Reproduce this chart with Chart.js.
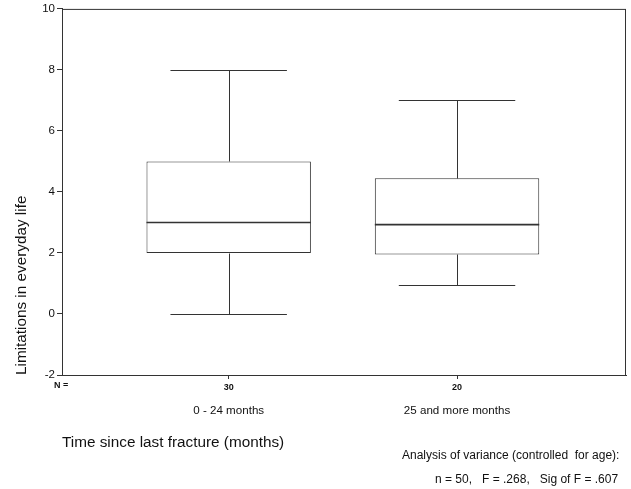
<!DOCTYPE html>
<html>
<head>
<meta charset="utf-8">
<script src="https://cdn.jsdelivr.net/npm/chart.js@4"></script>
<style>
  html, body { margin: 0; padding: 0; background: #fff; }
  #wrap { position: relative; width: 631px; height: 489px; }
  #wrap canvas { position: absolute; left: 0; top: 0; }
  .note { position: absolute; font-family: "Liberation Sans", Arial, sans-serif; color: #111; white-space: pre; line-height: 1; }
</style>
</head>
<body>
<div id="wrap">
  <canvas id="boxChart" width="631" height="489"></canvas>
  <div class="note" style="left:54px;top:381px;font-size:9px;font-weight:bold;">N =</div>
  <div class="note" style="left:62px;top:434px;font-size:15.3px;">Time since last fracture (months)</div>
  <div class="note" style="left:402px;top:449px;font-size:12px;">Analysis of variance (controlled  for age):</div>
  <div class="note" style="left:435px;top:473px;font-size:12px;">n = 50,   F = .268,   Sig of F = .607</div>
</div>
<script>
// datos
const groups = ['0 - 24 months', '25 and more months'];
const groupPos = [1, 2];
const nCounts = ['30', '20'];
const whiskerLow = [0, 0.95];
const q1 = [2, 1.95];
const median = [3, 2.93];
const q3 = [5, 4.45];
const whiskerHigh = [8, 7];
const yTicks = [-2, 0, 2, 4, 6, 8, 10];

const FONT = '"Liberation Sans", Arial, sans-serif';
const LINE = '#333';
const capHalf = 0.255;

// marco alrededor del area del grafico
const framePlugin = {
  id: 'frame',
  afterDatasetsDraw(chart) {
    const { ctx, chartArea: a } = chart;
    ctx.save();
    ctx.strokeStyle = LINE;
    ctx.lineWidth = 1;
    ctx.strokeRect(a.left + 0.5, a.top + 0.5, a.right - a.left - 1, a.bottom - a.top);
    ctx.restore();
  }
};

// bigotes y mediana, usando las escalas
const whiskerPlugin = {
  id: 'whiskers',
  afterDatasetsDraw(chart) {
    const { ctx, scales } = chart;
    const xs = scales.x, ys = scales.y;
    const meta = chart.getDatasetMeta(0);
    const line = (x1, y1, x2, y2) => {
      ctx.beginPath();
      ctx.moveTo(x1, y1);
      ctx.lineTo(x2, y2);
      ctx.stroke();
    };
    const py = v => Math.round(ys.getPixelForValue(v)) + 0.5;
    ctx.save();
    ctx.strokeStyle = LINE;
    groupPos.forEach((pos, i) => {
      const cx = Math.round(xs.getPixelForValue(pos)) + 0.5;
      const capL = xs.getPixelForValue(pos - capHalf);
      const capR = xs.getPixelForValue(pos + capHalf);
      ctx.lineWidth = 1;
      line(cx, py(q3[i]), cx, py(whiskerHigh[i]));
      line(capL, py(whiskerHigh[i]), capR, py(whiskerHigh[i]));
      line(cx, py(q1[i]), cx, py(whiskerLow[i]));
      line(capL, py(whiskerLow[i]), capR, py(whiskerLow[i]));
      const bar = meta.data[i];
      ctx.lineWidth = 1.6;
      line(bar.x - bar.width / 2, ys.getPixelForValue(median[i]), bar.x + bar.width / 2, ys.getPixelForValue(median[i]));
    });
    ctx.restore();
  }
};

const groupTicks = s => { s.ticks = groupPos.map(v => ({ value: v })); };

const data = {
  datasets: [{
    label: 'Limitations',
    data: groupPos.map((x, i) => ({ x: x, y: [q1[i], q3[i]] })),
    backgroundColor: '#fff',
    borderColor: LINE,
    borderWidth: 1,
    borderSkipped: false,
    barPercentage: 0.72,
    categoryPercentage: 1
  }]
};

const options = {
  responsive: false,
  animation: false,
  devicePixelRatio: 1,
  layout: { padding: { top: 8, right: 5, bottom: 72, left: 0 } },
  plugins: { legend: { display: false }, tooltip: { enabled: false } },
  scales: {
    x: {
      type: 'linear',
      position: 'bottom',
      weight: 0,
      offset: false,
      min: 0.27,
      max: 2.74,
      afterBuildTicks: groupTicks,
      afterFit: s => { s.height = 20; },
      ticks: {
        callback: (v, i) => nCounts[i],
        font: { family: FONT, size: 9, weight: 'bold' },
        color: '#111',
        padding: 3,
        maxRotation: 0,
        autoSkip: false
      },
      grid: { drawOnChartArea: false, offset: false, tickLength: 4, color: LINE },
      border: { display: true, color: LINE }
    },
    x2: {
      type: 'linear',
      position: 'bottom',
      weight: 1,
      offset: false,
      min: 0.27,
      max: 2.74,
      afterBuildTicks: groupTicks,
      afterFit: s => { s.height = 22; },
      ticks: {
        callback: (v, i) => groups[i],
        font: { family: FONT, size: 11.6 },
        color: '#111',
        padding: 1,
        maxRotation: 0,
        autoSkip: false
      },
      grid: { display: false, offset: false },
      border: { display: false }
    },
    y: {
      min: -2,
      max: 10,
      afterBuildTicks: s => { s.ticks = yTicks.map(v => ({ value: v })); },
      afterFit: s => { s.width = 62; },
      ticks: { font: { family: FONT, size: 11.5 }, color: '#111', padding: 2 },
      grid: { drawOnChartArea: false, tickLength: 5, color: LINE },
      border: { color: LINE },
      title: {
        display: true,
        text: 'Limitations in everyday life',
        align: 'start',
        color: '#111',
        font: { family: FONT, size: 15.3 },
        padding: { top: 13, bottom: 0 }
      }
    }
  }
};

const ctx = document.getElementById('boxChart').getContext('2d');
new Chart(ctx, {
  type: 'bar',
  data: data,
  options: options,
  plugins: [whiskerPlugin, framePlugin]
});
</script>
</body>
</html>
